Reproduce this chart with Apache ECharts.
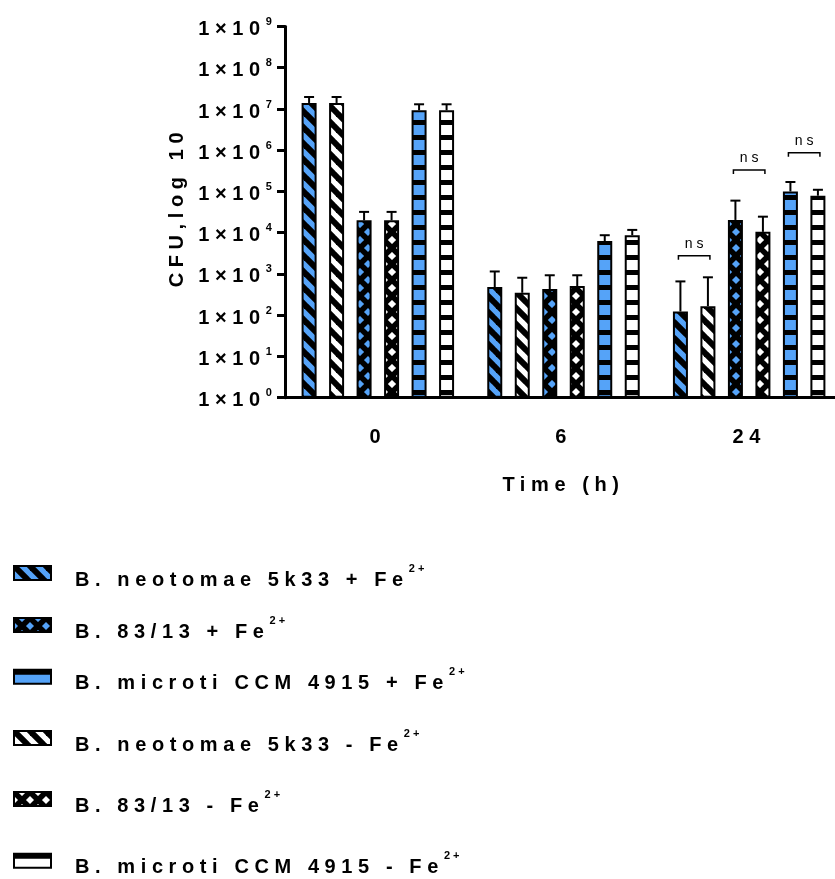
<!DOCTYPE html>
<html>
<head>
<meta charset="utf-8">
<script src="https://cdn.jsdelivr.net/npm/echarts@6/dist/echarts.min.js"></script>
<style>
  html, body { margin: 0; padding: 0; background: #fff; }
  #chart { width: 835px; height: 879px; }
</style>
</head>
<body>
<div id="chart"></div>
<script>
// time points (x categories)
const times = ['0', '6', '24']

// bar order inside each group
const names = [
  'B. neotomae 5k33 + Fe',
  'B. neotomae 5k33 - Fe',
  'B. 83/13 + Fe',
  'B. 83/13 - Fe',
  'B. microti CCM 4915 + Fe',
  'B. microti CCM 4915 - Fe'
]

// CFU means
const neoPlus = [1.4e7, 480, 123]
const neoMinus = [1.4e7, 350, 166]
const b83Plus = [2.0e4, 430, 20400]
const b83Minus = [2.0e4, 510, 10500]
const micPlus = [9.3e6, 6300, 100000]
const micMinus = [9.3e6, 8700, 79000]

// top of each error bar
const neoPlusErr = [1.95e7, 1150, 660]
const neoMinusErr = [1.95e7, 810, 830]
const b83PlusErr = [3.2e4, 930, 60000]
const b83MinusErr = [3.2e4, 930, 24500]
const micPlusErr = [1.3e7, 8700, 170000]
const micMinusErr = [1.3e7, 11700, 110000]

// "ns" brackets: time index, first bar of the pair, height of bracket
const nsTime = [2, 2, 2]
const nsFirstBar = [0, 2, 4]
const nsLevel = [2750, 330000, 870000]

// legend rows: which series, and where each row sits
const legendOrder = [0, 2, 4, 1, 3, 5]
const legendTops = [563, 615, 666.7, 728, 789, 850.7]

const means = [neoPlus, neoMinus, b83Plus, b83Minus, micPlus, micMinus]
const errTops = [neoPlusErr, neoMinusErr, b83PlusErr, b83MinusErr, micPlusErr, micMinusErr]

const BLUE = '#55a3f8'
const FONT = '"Liberation Sans", Arial, sans-serif'
const FS = 20
const BAR_W = 15
const PITCH = 27.5

// GraphPad style wide tracking on every text
const LS_EM = 0.28
const proto = CanvasRenderingContext2D.prototype
;['fillText', 'strokeText', 'measureText'].forEach(fn => {
  const orig = proto[fn]
  proto[fn] = function (...args) {
    const m = /(\d+(?:\.\d+)?)px/.exec(this.font)
    if ('letterSpacing' in this) {
      // zrender measures '国' to get line height, leave that one alone
      this.letterSpacing = m && args[0] !== '国' ? (m[1] * LS_EM).toFixed(1) + 'px' : '0px'
    }
    return orig.apply(this, args)
  }
})

function makePattern (kind, bg) {
  const n = kind === 'hline' ? 15 : 16
  const c = document.createElement('canvas')
  c.width = c.height = n
  const ctx = c.getContext('2d')
  ctx.fillStyle = bg
  ctx.fillRect(0, 0, n, n)
  ctx.fillStyle = '#000'
  ctx.strokeStyle = '#000'
  if (kind === 'hline') {
    ctx.fillRect(0, 0, n, 5)
  } else {
    ctx.lineWidth = kind === 'diag' ? 6 : 5.5
    for (let k = -1; k <= 1; k++) {
      ctx.beginPath()
      ctx.moveTo(k * n - 2, -2)
      ctx.lineTo(k * n + n + 2, n + 2)
      ctx.stroke()
      if (kind === 'cross') {
        ctx.beginPath()
        ctx.moveTo(k * n + n + 2, -2)
        ctx.lineTo(k * n - 2, n + 2)
        ctx.stroke()
      }
    }
  }
  return { image: c, repeat: 'repeat' }
}

const kinds = ['diag', 'diag', 'cross', 'cross', 'hline', 'hline']
const fills = names.map((n, i) => makePattern(kinds[i], i % 2 === 0 ? BLUE : '#fff'))

const chart = echarts.init(document.getElementById('chart'), null, { renderer: 'canvas' })

const barSeries = names.map((name, i) => ({
  name: name,
  type: 'bar',
  barWidth: BAR_W,
  barGap: ((PITCH - BAR_W) / BAR_W * 100).toFixed(1) + '%',
  itemStyle: { color: fills[i], borderColor: '#000', borderWidth: 2 },
  emphasis: { disabled: true },
  data: means[i]
}))

const errData = []
errTops.forEach((tops, s) => {
  tops.forEach((top, t) => errData.push([t, means[s][t], top, s]))
})

const nsData = nsTime.map((t, i) => [t, nsLevel[i], nsFirstBar[i]])

const bold = { fontSize: FS, fontWeight: 'bold', fontFamily: FONT, color: '#000' }
const legendRich = {
  a: Object.assign({}, bold, { lineHeight: 20, padding: [7, 0, 0, 19], verticalAlign: 'top' }),
  s: Object.assign({}, bold, { fontSize: 11, lineHeight: 11, padding: [0, 0, 0, 0], verticalAlign: 'top' })
}

const option = {
  animation: false,
  backgroundColor: '#fff',
  grid: { left: 285, top: 26.5, width: 557, height: 371.2, containLabel: false, outerBoundsMode: 'none' },
  legend: legendOrder.map((s, i) => ({
    data: [names[s]],
    orient: 'vertical',
    left: 13,
    top: legendTops[i],
    padding: 0,
    icon: 'rect',
    itemWidth: 37,
    itemHeight: 14,
    selectedMode: false,
    itemStyle: { borderColor: '#000', borderWidth: 2 },
    formatter: name => '{a|' + name + '}{s|2+}',
    textStyle: { rich: legendRich }
  })),
  xAxis: {
    type: 'category',
    data: times,
    name: 'Time (h)',
    nameLocation: 'middle',
    nameGap: 78,
    nameTextStyle: bold,
    axisLine: { lineStyle: { color: '#000', width: 3 } },
    axisTick: { alignWithLabel: true, length: 10, lineStyle: { color: '#000', width: 3 } },
    axisLabel: Object.assign({ margin: 30 }, bold),
    splitLine: { show: false }
  },
  yAxis: {
    type: 'log',
    logBase: 10,
    min: 1,
    max: 1e9,
    interval: 1,
    name: 'CFU,log 10',
    nameLocation: 'middle',
    nameGap: 95,
    nameTextStyle: Object.assign({ padding: [0, 0, 0, 10] }, bold),
    axisLine: { show: true, lineStyle: { color: '#000', width: 3 } },
    axisTick: { show: true, length: 8, lineStyle: { color: '#000', width: 3 } },
    minorTick: { show: false },
    splitLine: { show: false },
    axisLabel: {
      margin: 10,
      formatter: v => '{a|1×10}{s|' + Math.round(Math.log10(v)) + '}',
      rich: {
        a: Object.assign({}, bold, { lineHeight: 20, padding: [3, 0, 0, 0], verticalAlign: 'top' }),
        s: Object.assign({}, bold, { fontSize: 11, lineHeight: 11, padding: [0, 0, 0, 0], verticalAlign: 'top' })
      }
    }
  },
  series: barSeries.concat([
    {
      type: 'custom',
      name: 'errors',
      z: 3,
      silent: true,
      encode: { x: 0, y: [1, 2] },
      data: errData,
      renderItem: (params, api) => {
        const base = api.coord([api.value(0), api.value(1)])
        const top = api.coord([api.value(0), api.value(2)])
        const x = base[0] + (api.value(3) - 2.5) * PITCH
        const st = { stroke: '#000', lineWidth: 2 }
        return {
          type: 'group',
          children: [
            { type: 'line', shape: { x1: x, y1: base[1], x2: x, y2: top[1] }, style: st },
            { type: 'line', shape: { x1: x - 5, y1: top[1], x2: x + 5, y2: top[1] }, style: st }
          ]
        }
      }
    },
    {
      type: 'custom',
      name: 'ns',
      z: 3,
      silent: true,
      encode: { x: 0, y: 1 },
      data: nsData,
      renderItem: (params, api) => {
        const p = api.coord([api.value(0), api.value(1)])
        const s = api.value(2)
        const x1 = p[0] + (s - 2.5) * PITCH - 2
        const x2 = p[0] + (s + 1 - 2.5) * PITCH + 2
        return {
          type: 'group',
          children: [
            {
              type: 'polyline',
              shape: { points: [[x1, p[1] + 4], [x1, p[1]], [x2, p[1]], [x2, p[1] + 4]] },
              style: { stroke: '#000', lineWidth: 1.5, fill: null }
            },
            {
              type: 'text',
              style: {
                text: 'ns', x: (x1 + x2) / 2 + 2, y: p[1] - 12,
                align: 'center', verticalAlign: 'middle',
                font: '14px ' + FONT, fill: '#000'
              }
            }
          ]
        }
      }
    }
  ])
}

chart.setOption(option)
</script>
</body>
</html>
